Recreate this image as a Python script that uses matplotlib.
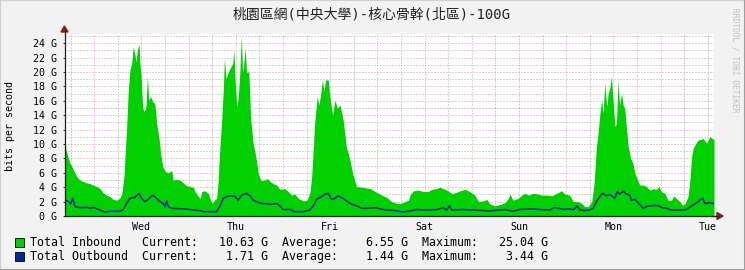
import numpy as np
import matplotlib
matplotlib.use("Agg")
import matplotlib.pyplot as plt
from matplotlib.lines import Line2D
from matplotlib.patches import Polygon

# ---------------- data (hours relative to Wed 00:00, values in Gbit/s) -------------
in_hours = [-7.6, -7.2, -6.3, -5.3, -4.5, -3.7, -2.8, -2.0, -1.1, -0.25, 0.6, 1.45, 2.3, 3.1,
            4.0, 4.8, 5.7, 6.5, 7.0, 7.55, 7.8, 8.2, 8.65, 9.07, 9.5, 9.9, 10.35, 10.6, 10.95,
            11.4, 11.6, 11.9, 12.3, 12.7, 13.15, 13.5, 13.85, 14.3, 14.85, 15.4, 15.85, 16.5,
            16.9, 17.4, 18.0, 18.8, 19.7, 20.1, 20.5, 21.8, 22.6, 23.5, 24.3, 25.2, 25.6, 26.5,
            27.0, 27.3, 28.1, 29.0, 29.4, 30.0, 30.5, 31.1, 31.5, 31.9, 32.4, 32.8, 33.1, 33.5,
            34.1, 34.7, 35.2, 35.5, 35.8, 36.2, 36.6, 37.0, 37.4, 37.7, 38.0, 38.4, 38.7, 39.3,
            39.8, 40.4, 41.1, 41.7, 42.3, 43.0, 44.0, 44.7, 45.5, 46.4, 47.2, 48.5, 49.3, 50.2,
            51.0, 51.9, 53.1, 54.1, 54.8, 55.3, 55.7, 56.1, 56.7, 57.1, 57.5, 58.0, 58.4, 58.8,
            59.5, 59.9, 60.6, 61.2, 61.8, 62.5, 63.3, 64.1, 65.0, 65.7, 66.3, 66.7, 68.0, 69.2,
            70.3, 71.4, 72.6, 73.9, 74.7, 75.6, 76.5, 77.7, 79.0, 79.9, 80.3, 81.1, 82.4, 83.7,
            84.9, 85.8, 87.0, 87.9, 88.8, 89.6, 90.9, 91.7, 93.0, 94.3, 95.5, 96.8, 97.7, 98.9,
            99.8, 100.6, 101.9, 103.2, 104.4, 105.3, 105.7, 106.5, 107.8, 108.7, 109.5, 110.4,
            111.6, 112.9, 113.7, 115.0, 116.3, 117.6, 118.8, 119.7, 120.9, 121.8, 123.1, 123.9,
            124.8, 125.6, 126.5, 127.1, 127.7, 128.2, 128.6, 129.0, 129.4, 129.8, 130.3, 130.7,
            131.1, 131.5, 131.9, 132.4, 132.8, 133.2, 133.6, 134.1, 134.5, 134.9, 135.3, 135.8,
            136.4, 137.0, 137.5, 138.0, 138.7, 139.6, 140.4, 141.3, 142.1, 143.0, 143.6, 144.2,
            145.1, 145.9, 146.8, 147.4, 148.0, 148.9, 149.6, 150.2, 151.0, 151.4, 151.9, 152.3,
            153.0, 153.6, 154.2, 154.8, 155.7, 156.5, 157.6]
in_gbps = [11.25, 9.2, 7.5, 6.4, 5.5, 5.0, 4.8, 4.6, 4.5, 4.3, 4.1, 3.8, 3.2, 2.9,
           2.7, 2.3, 2.2, 2.5, 3.1, 5.5, 8.2, 12.0, 17.5, 20.3, 21.2, 23.5, 22.4, 21.4, 23.0,
           23.9, 21.2, 19.4, 15.0, 14.5, 15.2, 19.4, 16.1, 16.6, 15.9, 15.6, 12.9, 10.6,
           8.5, 6.9, 6.2, 6.0, 6.3, 4.9, 5.1, 5.0, 4.6, 4.2, 4.1, 4.0, 3.4, 2.7,
           2.45, 3.4, 3.5, 3.15, 2.45, 1.75, 2.2, 2.45, 4.8, 9.2, 13.3, 17.5, 21.9, 19.1,
           20.0, 20.7, 21.2, 23.0, 18.9, 15.2, 16.3, 19.8, 25.04, 20.0, 21.2, 23.3, 20.0, 20.0,
           13.3, 10.1, 8.2, 5.9, 5.0, 4.9, 5.2, 4.8, 4.5, 4.3, 3.7, 3.8, 3.4, 2.9,
           3.05, 2.45, 2.1, 2.2, 3.15, 5.5, 9.6, 13.3, 16.6, 15.4, 16.6, 18.9, 17.3, 18.9,
           18.9, 16.6, 14.0, 16.1, 15.0, 15.4, 13.3, 9.6, 7.8, 5.9, 4.8, 4.1, 4.0, 3.9,
           3.8, 3.4, 3.05, 2.7, 2.45, 2.0, 1.85, 1.7, 2.0, 2.2, 2.9, 3.5, 3.6, 3.4,
           3.4, 3.7, 3.8, 4.0, 3.8, 3.6, 3.15, 3.2, 3.5, 3.7, 3.4, 2.9, 2.0, 2.1,
           2.3, 1.7, 1.4, 1.6, 1.85, 2.45, 3.05, 2.2, 2.45, 2.9, 3.15, 2.9,
           3.15, 3.05, 2.9, 2.9, 2.8, 3.15, 3.5, 3.05, 2.9, 2.0, 2.0, 1.75,
           1.3, 1.3, 2.0, 4.5, 9.6, 11.9, 14.3, 16.1, 14.3, 18.4, 15.2, 17.0,
           17.8, 19.3, 16.3, 12.4, 12.9, 18.7, 15.4, 17.0, 15.4, 15.0, 12.4, 9.6,
           8.0, 7.3, 5.9, 5.2, 4.3, 4.3, 4.1, 3.6, 3.8, 3.7, 4.1, 3.4,
           3.15, 2.2, 2.2, 2.8, 2.45, 2.0, 1.5, 1.7, 2.7, 4.5, 8.2, 9.4,
           10.1, 10.6, 10.6, 10.8, 10.1, 11.0, 10.63]

out_hours = [-7.6, -6.6, -6.0, -5.5, -4.9, -3.6, -1.9, -1.1, -0.25, 0.6, 1.45, 2.7, 4.0, 6.1,
             7.0, 7.55, 8.2, 9.1, 10.35, 11.4, 12.0, 12.9, 13.7, 14.9, 15.85, 16.7, 17.5,
             17.95, 18.4, 18.8, 19.7, 20.1, 22.6, 24.3, 26.0, 27.3, 27.7, 31.1, 31.9, 32.8,
             33.6, 34.9, 35.8, 36.6, 37.5, 38.7, 39.6, 40.4, 41.3, 42.5, 43.8, 44.7, 46.4,
             47.2, 48.0, 49.7, 51.0, 53.1, 54.8, 55.7, 56.5, 57.8, 58.6, 59.5, 60.3, 61.2,
             62.0, 63.3, 64.1, 65.4, 66.7, 68.0, 69.2, 71.4, 72.6, 74.3, 76.4, 78.6, 80.3,
             82.0, 84.5, 87.1, 88.8, 89.6, 90.3, 90.9, 93.8, 97.2, 100.6, 104.4, 106.5,
             108.2, 110.8, 113.3, 115.9, 117.1, 119.3, 121.0, 121.8, 122.8, 123.5, 124.8,
             126.0, 126.9, 127.7, 128.6, 129.3, 130.3, 131.1, 131.9, 132.4, 133.0, 133.6,
             134.5, 135.3, 136.2, 136.6, 137.5, 138.3, 139.6, 140.8, 142.1, 143.4, 144.2,
             145.5, 146.8, 148.0, 149.3, 150.6, 151.9, 153.0, 154.0, 154.7, 155.3, 156.5,
             157.6]
out_gbps = [2.3, 2.0, 1.7, 2.45, 1.3, 1.15, 1.2, 1.06, 1.2, 1.0, 0.83, 0.55, 0.65, 0.65,
            0.75, 1.06, 1.75, 2.45, 2.6, 3.15, 2.45, 2.0, 2.3, 2.9, 2.45, 2.0, 1.75,
            1.3, 2.1, 1.3, 1.06, 1.06, 1.0, 0.9, 0.8, 0.7, 0.6, 0.6, 1.3, 2.45,
            2.7, 2.8, 2.7, 2.2, 2.9, 3.15, 2.8, 2.2, 2.0, 1.75, 1.7, 1.6, 1.75,
            1.4, 0.9, 0.9, 0.6, 0.6, 0.83, 1.4, 2.3, 2.7, 3.0, 3.15, 2.3, 2.45,
            2.8, 2.45, 2.1, 1.65, 1.4, 1.06, 1.06, 1.15, 1.0, 0.83, 0.75, 0.55, 0.7,
            0.9, 0.83, 0.9, 1.15, 0.83, 1.4, 0.83, 0.9, 0.8, 0.7, 0.9, 0.65,
            0.9, 1.0, 0.9, 0.83, 1.2, 0.9, 1.0, 0.83, 1.4, 0.83, 0.75,
            0.83, 1.06, 2.0, 2.7, 3.15, 2.8, 3.0, 2.7, 2.45, 3.4, 3.05,
            3.44, 3.05, 2.9, 2.2, 2.3, 1.85, 1.06, 1.4, 1.45, 1.45, 1.2,
            1.06, 0.83, 0.8, 0.83, 0.9, 1.4, 1.75, 2.2, 2.45, 1.75, 1.85,
            1.71]

day_labels = ["Wed", "Thu", "Fri", "Sat", "Sun", "Mon", "Tue"]
y_ticks = [0, 2, 4, 6, 8, 10, 12, 14, 16, 18, 20, 22, 24]

title = "桃園區網(中央大學)-核心骨幹(北區)-100G"
legend_rows = [
    ("Total Inbound   Current:   10.63 G  Average:    6.55 G  Maximum:   25.04 G", "#00CF00"),
    ("Total Outbound  Current:    1.71 G  Average:    1.44 G  Maximum:    3.44 G", "#002A97"),
]

# ---------------- styling ----------------
W, H = 745, 270
BACK = (0.95, 0.95, 0.95)
GRID = (0.56, 0.56, 0.56, 0.75)
MGRID = (0.87, 0.31, 0.31, 0.60)
ARROW = (0.50, 0.12, 0.12)
AXIS = (0.12, 0.12, 0.12)
IN_COLOR = "#00CF00"
OUT_COLOR = "#002A97"
MONO = ["DejaVu Sans Mono", "Noto Sans CJK TC"]

x_left_px, x_right_px = 64.5, 714.0
y_bottom_px, y_top_px = 216.0, 34.0
xlim = (-7.58, 157.6)
ylim = (0, 25.28)

fig = plt.figure(figsize=(W / 100, H / 100), dpi=100, facecolor=BACK)
ax = fig.add_axes([x_left_px / W, 1 - y_bottom_px / H,
                   (x_right_px - x_left_px) / W, (y_bottom_px - y_top_px) / H])
ax.set_facecolor("white")
ax.set_xlim(*xlim)
ax.set_ylim(*ylim)

# grid (drawn under data)
dash = (0, (1, 2))
for h in np.arange(-6, xlim[1], 6):
    col = MGRID if h % 24 == 0 else GRID
    ax.axvline(h, color=col, lw=0.72, ls=dash, zorder=0.5)
for v in np.arange(1, ylim[1], 1):
    col = MGRID if v % 2 == 0 else GRID
    ax.axhline(v, color=col, lw=0.72, ls=dash, zorder=0.5)

# data
ax.fill_between(in_hours, in_gbps, 0, color=IN_COLOR, lw=0, zorder=2)
ax.plot(out_hours, out_gbps, color=OUT_COLOR, lw=1.1, zorder=3)

# axes
for s in ["top", "right"]:
    ax.spines[s].set_visible(False)
for s in ["left", "bottom"]:
    ax.spines[s].set_color(AXIS)
    ax.spines[s].set_linewidth(0.9)
    ax.spines[s].set_zorder(4)

ax.set_yticks(y_ticks)
ax.set_yticklabels([f"{v} G" for v in y_ticks], family=MONO, fontsize=7.2)
ax.tick_params(axis="y", length=1.5, width=0.7, color=AXIS, pad=3.6, direction="out")
ax.set_xticks([12 + 24 * i for i in range(len(day_labels))])
ax.set_xticklabels(day_labels, family=MONO, fontsize=7.2)
ax.tick_params(axis="x", length=0, pad=4.5)

# arrows at the axis ends (pixel positions converted to figure fraction)
def fx(px):
    return px / W

def fy(py):
    return 1 - py / H

fig.add_artist(Line2D([fx(x_right_px), fx(718)], [fy(216), fy(216)], color=AXIS, lw=0.9))
fig.add_artist(Polygon([[fx(717), fy(212.5)], [fx(723), fy(216)], [fx(717), fy(219.5)]],
                       closed=True, color=ARROW, transform=fig.transFigure))
fig.add_artist(Line2D([fx(x_left_px), fx(x_left_px)], [fy(y_top_px), fy(31)], color=AXIS, lw=0.9))
fig.add_artist(Polygon([[fx(61), fy(32)], [fx(x_left_px), fy(26)], [fx(68), fy(32)]],
                       closed=True, color=ARROW, transform=fig.transFigure))

# texts
fig.text(fx(371.5), fy(15), title, family=MONO, fontsize=10, color="#222222",
         ha="center", va="center")
fig.text(fx(10), fy(126), "bits per second", family=MONO, fontsize=7.2,
         rotation=90, ha="center", va="center")
fig.text(fx(735), fy(60), "RRDTOOL / TOBI OETIKER", family=MONO, fontsize=5.7,
         color=(0.75, 0.75, 0.75), rotation=270, ha="center", va="center")

# legend
for i, (txt, col) in enumerate(legend_rows):
    yc = 242.5 + 14.3 * i
    fig.add_artist(plt.Rectangle((fx(15), fy(yc + 4.5)), 9 / W, 9 / H, facecolor=col,
                                 edgecolor="black", lw=0.6, transform=fig.transFigure))
    fig.text(fx(30), fy(yc), txt, family=MONO, fontsize=8.4, ha="left", va="center")

# frame shading
fig.add_artist(Line2D([0, 0], [0, 1], color=(0.81, 0.81, 0.81), lw=1.5))
fig.add_artist(Line2D([0, 1], [1, 1], color=(0.81, 0.81, 0.81), lw=1.5))
fig.add_artist(Line2D([0, 1], [0, 0], color=(0.62, 0.62, 0.62), lw=1.5))
fig.add_artist(Line2D([1, 1], [0, 1], color=(0.62, 0.62, 0.62), lw=1.5))

fig.savefig("out.png", dpi=100, facecolor=BACK)
